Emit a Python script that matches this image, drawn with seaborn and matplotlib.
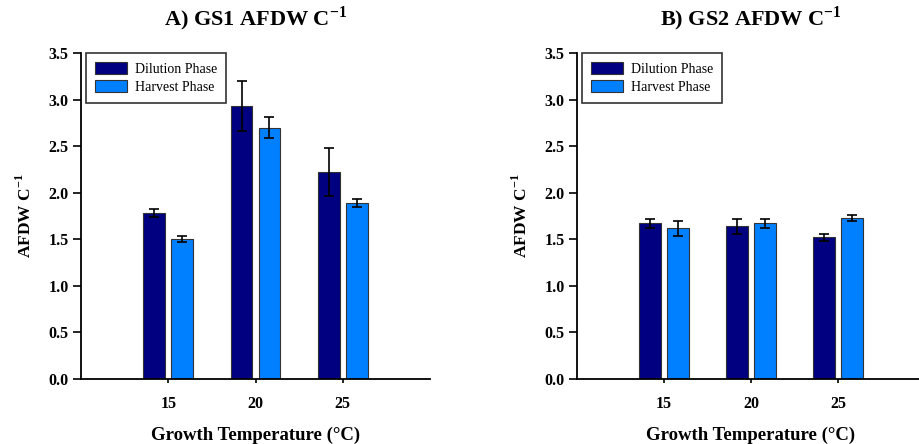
import pandas as pd
import matplotlib.pyplot as plt
import seaborn as sns
from matplotlib.patches import Patch

temps = ["15", "20", "25"]
phases = ["Dilution Phase", "Harvest Phase"]

gs1_dilution = [1.78, 2.93, 2.22]
gs1_dilution_err = [0.045, 0.265, 0.255]
gs1_harvest = [1.50, 2.70, 1.89]
gs1_harvest_err = [0.03, 0.11, 0.045]

gs2_dilution = [1.67, 1.64, 1.52]
gs2_dilution_err = [0.05, 0.08, 0.035]
gs2_harvest = [1.62, 1.67, 1.73]
gs2_harvest_err = [0.08, 0.05, 0.03]

colors = {"Dilution Phase": "#000080", "Harvest Phase": "#0080ff"}

sns.set_style("ticks")
plt.rcParams["font.family"] = ["Liberation Serif", "DejaVu Serif"]
plt.rcParams["mathtext.fontset"] = "custom"
plt.rcParams["mathtext.rm"] = "Liberation Serif:bold"
plt.rcParams["mathtext.bf"] = "Liberation Serif:bold"
plt.rcParams["text.color"] = "black"
plt.rcParams["axes.labelcolor"] = "black"
plt.rcParams["xtick.color"] = "black"
plt.rcParams["ytick.color"] = "black"


def make_df(dil, har, dil_err, har_err):
    rows = []
    for t, v, e in zip(temps, dil, dil_err):
        rows.append({"temp": t, "phase": phases[0], "value": v, "err": e})
    for t, v, e in zip(temps, har, har_err):
        rows.append({"temp": t, "phase": phases[1], "value": v, "err": e})
    return pd.DataFrame(rows)


panels = [
    ("A) GS1 AFDW C$^{\\mathbf{-1}}$",
     make_df(gs1_dilution, gs1_harvest, gs1_dilution_err, gs1_harvest_err)),
    ("B) GS2 AFDW C$^{\\mathbf{-1}}$",
     make_df(gs2_dilution, gs2_harvest, gs2_dilution_err, gs2_harvest_err)),
]

fig = plt.figure(figsize=(9.19, 4.44), dpi=100)
W, H = 919, 444
boxes = [(81, 349), (577, 348)]

for (title, df), (x0, w) in zip(panels, boxes):
    ax = fig.add_axes([x0 / W, 65 / H, w / W, 326 / H])
    sns.barplot(data=df, x="temp", y="value", hue="phase", order=temps,
                hue_order=phases, palette=colors, saturation=1, width=0.64,
                gap=0.22, errorbar=None, edgecolor="#333333", linewidth=0.8,
                ax=ax)
    # error bars at bar centres
    bars = [p for p in ax.patches if p.get_height() > 0]
    for i, ph in enumerate(phases):
        sub = df[df["phase"] == ph]
        for j, (v, e) in enumerate(zip(sub["value"], sub["err"])):
            p = bars[i * len(temps) + j]
            ax.errorbar(p.get_x() + p.get_width() / 2, v, yerr=e, fmt="none",
                        ecolor="black", elinewidth=1.2, capsize=3.3,
                        capthick=1.2)
    ax.set_xlim(-1, 3)
    ax.set_ylim(0, 3.5)
    ax.set_yticks([0, 0.5, 1.0, 1.5, 2.0, 2.5, 3.0, 3.5])
    ax.set_yticklabels([f"{t:.1f}" for t in ax.get_yticks()])
    for lab in ax.get_xticklabels() + ax.get_yticklabels():
        lab.set_fontweight("bold")
        lab.set_fontsize(11.5)
    ax.tick_params(axis="y", direction="out", length=6, width=1.2, pad=3)
    ax.tick_params(axis="x", direction="out", length=3, width=1.2, pad=9)
    for s in ["top", "right"]:
        ax.spines[s].set_visible(False)
    for s in ["left", "bottom"]:
        ax.spines[s].set_linewidth(1.3)
        ax.spines[s].set_color("black")
    ax.set_title(title, fontsize=16, fontweight="bold", pad=20)
    ax.set_xlabel("Growth Temperature (°C)", fontsize=13.5, fontweight="bold",
                  labelpad=11)
    ax.set_ylabel("AFDW C$^{\\mathbf{-1}}$", fontsize=12.5, fontweight="bold",
                  labelpad=10)
    handles = [Patch(facecolor=colors[ph], edgecolor="#333333", linewidth=0.8)
               for ph in phases]
    leg = ax.legend(handles, phases, loc="upper left", bbox_to_anchor=(0.014, 1.0),
                    fontsize=10, frameon=True, fancybox=False, handlelength=2.3,
                    handleheight=0.95, borderpad=0.65, labelspacing=0.3,
                    handletextpad=0.6, borderaxespad=0)
    leg.get_frame().set_edgecolor("black")
    leg.get_frame().set_linewidth(1.2)

fig.savefig("out.png", dpi=100)
